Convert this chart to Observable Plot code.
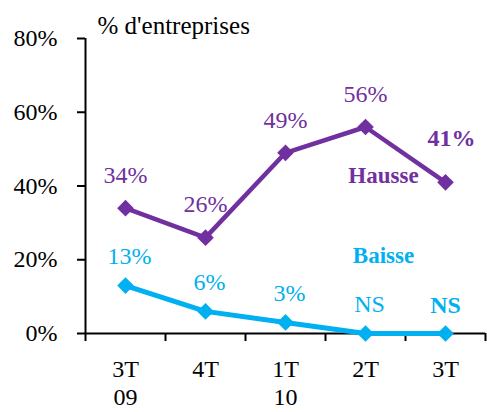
<!DOCTYPE html>
<html>
<head>
<meta charset="utf-8">
<script src="https://cdn.jsdelivr.net/npm/d3@7"></script>
<script src="https://cdn.jsdelivr.net/npm/@observablehq/plot@0.6"></script>
<style>
  html, body { margin: 0; padding: 0; background: #fff; }
  #chart { width: 487px; height: 412px; }
</style>
</head>
<body>
<div id="chart"></div>
<script>
const categories = ["3T\n09", "4T", "1T\n10", "2T", "3T"];
const hausse = [34, 26, 49, 56, 41];
const baisse = [13, 6, 3, 0, 0];
const hausseLabels = ["34%", "26%", "49%", "56%", "41%"];
const baisseLabels = ["13%", "6%", "3%", "NS", "NS"];
const yTicks = [0, 20, 40, 60, 80];
const seriesNames = ["Hausse", "Baisse"];
const title = "% d'entreprises";

const purple = "#7030A0";
const blue = "#00B0F0";

const rows = categories.map((c, i) => ({
  i, c, hausse: hausse[i], baisse: baisse[i],
  hl: hausseLabels[i], bl: baisseLabels[i]
}));
const last = rows.length - 1;
const bounds = d3.range(categories.length + 1).map(k => k - 0.5);

const chart = Plot.plot({
  width: 487,
  height: 412,
  marginLeft: 85,
  marginRight: 2,
  marginTop: 38,
  marginBottom: 79,
  style: "font-family: 'Liberation Serif', serif; font-size: 24px; color: #000; background: #fff;",
  x: { domain: [-0.5, categories.length - 0.5] },
  y: { domain: [0, 80] },
  marks: [
    Plot.axisY({ ticks: yTicks, tickFormat: d => d + "%", tickSize: 8, tickPadding: 20, strokeWidth: 2, label: null, fontSize: 24 }),
    Plot.axisX({ ticks: bounds, tickFormat: () => "", tickSize: 8, strokeWidth: 2, label: null }),
    Plot.ruleX([-0.5], { y1: 0, y2: 80, stroke: "#000", strokeWidth: 2 }),
    Plot.ruleY([0], { stroke: "#000", strokeWidth: 2 }),
    Plot.text(rows, { x: "i", text: "c", frameAnchor: "bottom", lineAnchor: "top", dy: 23, lineHeight: 1.18, fontSize: 24, fill: "#000" }),
    Plot.text([title], { frameAnchor: "top-left", textAnchor: "start", lineAnchor: "bottom", dx: 12, dy: -5, fontSize: 25, fill: "#000" }),
    Plot.line(rows, { x: "i", y: "hausse", stroke: purple, strokeWidth: 4.5 }),
    Plot.line(rows, { x: "i", y: "baisse", stroke: blue, strokeWidth: 5 }),
    Plot.dot(rows, { x: "i", y: "hausse", symbol: "diamond2", r: 7.5, fill: purple, stroke: "none" }),
    Plot.dot(rows, { x: "i", y: "baisse", symbol: "diamond2", r: 7.5, fill: blue, stroke: "none" }),
    Plot.text(rows, { filter: d => d.i < last, x: "i", y: "hausse", text: "hl", dy: -33, fill: purple, fontSize: 24 }),
    Plot.text(rows, { filter: d => d.i === last, x: "i", y: "hausse", text: "hl", dy: -44, dx: 6, fill: purple, fontSize: 24, fontWeight: "bold" }),
    Plot.text(rows, { filter: d => d.i < last, x: "i", y: "baisse", text: "bl", dy: -29, dx: 4, fill: blue, fontSize: 24 }),
    Plot.text(rows, { filter: d => d.i === last, x: "i", y: "baisse", text: "bl", dy: -28, fill: blue, fontSize: 24, fontWeight: "bold" }),
    Plot.text(rows, { filter: d => d.i === 3, x: "i", y: "hausse", text: () => seriesNames[0], dx: 18, dy: 49, fill: purple, fontSize: 23, fontWeight: "bold" }),
    Plot.text(rows, { filter: d => d.i === 3, x: "i", y: "baisse", text: () => seriesNames[1], dx: 18, dy: -78, fill: blue, fontSize: 23, fontWeight: "bold" })
  ]
});
d3.select(chart).selectAll("g, text").attr("font-family", null);
d3.select(chart).selectAll("text").style("font-family", "'Liberation Serif', serif");
document.getElementById("chart").appendChild(chart);
</script>
</body>
</html>
